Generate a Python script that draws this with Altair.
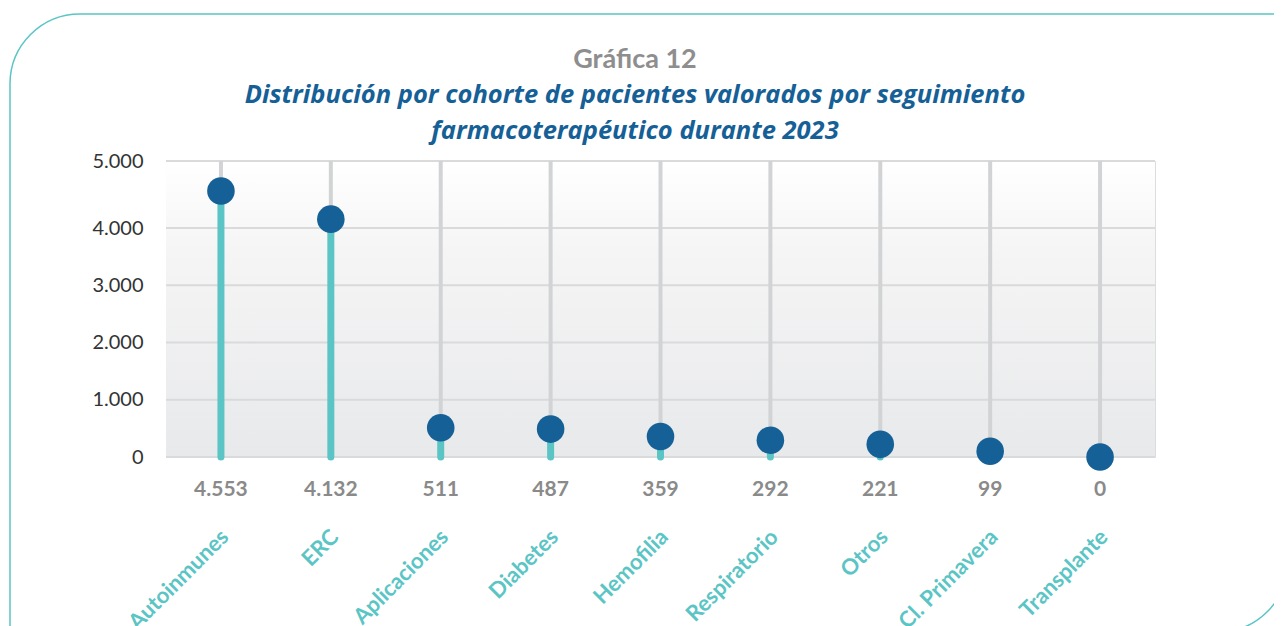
import altair as alt
import pandas as pd

categories = ["Autoinmunes", "ERC", "Aplicaciones", "Diabetes", "Hemofilia",
              "Respiratorio", "Otros", "Cl. Primavera", "Transplante"]
values = [4553, 4132, 511, 487, 359, 292, 221, 99, 0]
value_labels = ["4.553", "4.132", "511", "487", "359", "292", "221", "99", "0"]
y_ticks = [0, 1000, 2000, 3000, 4000, 5000]
y_max = 5000

title_text = "Gráfica 12"
subtitle_lines = ["Distribución por cohorte de pacientes valorados por seguimiento",
                  "farmacoterapéutico durante 2023"]

W, H = 989, 296
FONT = "Lato"
SUBFONT = "Open Sans"
TEAL = "#5bc5c5"
BLUE = "#156096"

df = pd.DataFrame({"cat": categories, "val": values, "lab": value_labels,
                   "top": [y_max] * len(categories), "zero": [0] * len(categories)})
ticks = pd.DataFrame({"t": y_ticks})
one = pd.DataFrame({"k": [0]})

yscale = alt.Scale(domain=[0, 4000, y_max], range=[H, 67, 0], nice=False)

xs = alt.X("cat:N", sort=categories,
           scale=alt.Scale(paddingInner=0, paddingOuter=0),
           axis=alt.Axis(title=None, labelAngle=-45, labelAlign="right", labelBaseline="middle",
                         labelPadding=76, labelOffset=4, labelColor=TEAL, labelFont=FONT,
                         labelFontSize=22, labelFontWeight="bold", domain=False, ticks=False,
                         grid=False))
ys = alt.Y("val:Q", scale=yscale,
           axis=alt.Axis(title=None, values=y_ticks, domain=False, ticks=False, grid=False,
                         labelColor="#333333", labelFont=FONT, labelFontSize=20, labelPadding=23,
                         labelExpr="replace(format(datum.value, ','), ',', '.')"))

frame = alt.Chart(one).mark_rect(cornerRadiusTopLeft=70, cornerRadiusBottomRight=70,
                                 cornerRadiusTopRight=0, cornerRadiusBottomLeft=0,
                                 fillOpacity=0, stroke=TEAL, strokeWidth=1.5).encode(
    x=alt.value(-156), x2=alt.value(1122), y=alt.value(-147), y2=alt.value(471))

bg = alt.Chart(one).mark_rect(
    color=alt.LinearGradient(gradient="linear", x1=0, y1=0, x2=0, y2=1,
                             stops=[alt.GradientStop(color="#ffffff", offset=0),
                                    alt.GradientStop(color="#f5f5f6", offset=0.3),
                                    alt.GradientStop(color="#e8e9ea", offset=1)])
).encode(x=alt.value(0), x2=alt.value(W), y=alt.value(0), y2=alt.value(H))

hgrid = alt.Chart(ticks).mark_rule(color="#d9dadb", strokeWidth=2).encode(
    y=alt.Y("t:Q", scale=yscale), x=alt.value(0), x2=alt.value(W))

vgrid = alt.Chart(df).mark_rule(color="#d2d3d5", strokeWidth=4).encode(
    x=xs, y=alt.Y("top:Q"), y2="zero:Q")

stems = alt.Chart(df).mark_rule(color=TEAL, strokeWidth=7, strokeCap="round").encode(
    x=xs, y=ys, y2="zero:Q")

points = alt.Chart(df).mark_point(filled=True, shape="circle", size=760, color=BLUE, opacity=1).encode(
    x=xs, y=ys)

labels = alt.Chart(df).mark_text(font=FONT, fontSize=21, fontWeight="bold", color="#8a8a8a",
                                 baseline="middle").encode(
    x=xs, y=alt.value(H + 33), text="lab:N")

t1 = alt.Chart(one).mark_text(font=FONT, fontSize=27, fontWeight="bold", color="#8e8e8e",
                              baseline="alphabetic", align="center").encode(
    x=alt.value(469), y=alt.value(-93), text=alt.value(title_text))
t2 = alt.Chart(one).mark_text(font=SUBFONT, fontSize=25.5, fontWeight="bold", fontStyle="italic",
                              color=BLUE, baseline="alphabetic", align="center").encode(
    x=alt.value(469), y=alt.value(-58), text=alt.value(subtitle_lines[0]))
t3 = alt.Chart(one).mark_text(font=SUBFONT, fontSize=25.5, fontWeight="bold", fontStyle="italic",
                              color=BLUE, baseline="alphabetic", align="center").encode(
    x=alt.value(469), y=alt.value(-22), text=alt.value(subtitle_lines[1]))

chart = alt.layer(frame, bg, hgrid, vgrid, stems, points, labels, t1, t2, t3).properties(
    width=W, height=H,
    autosize=alt.AutoSizeParams(type="none"),
    padding={"left": 158, "top": 153, "right": 119, "bottom": 169},
).configure_view(stroke=None).configure(background="#ffffff")

chart.save("out.html", embed_options={"renderer": "svg", "actions": False})
